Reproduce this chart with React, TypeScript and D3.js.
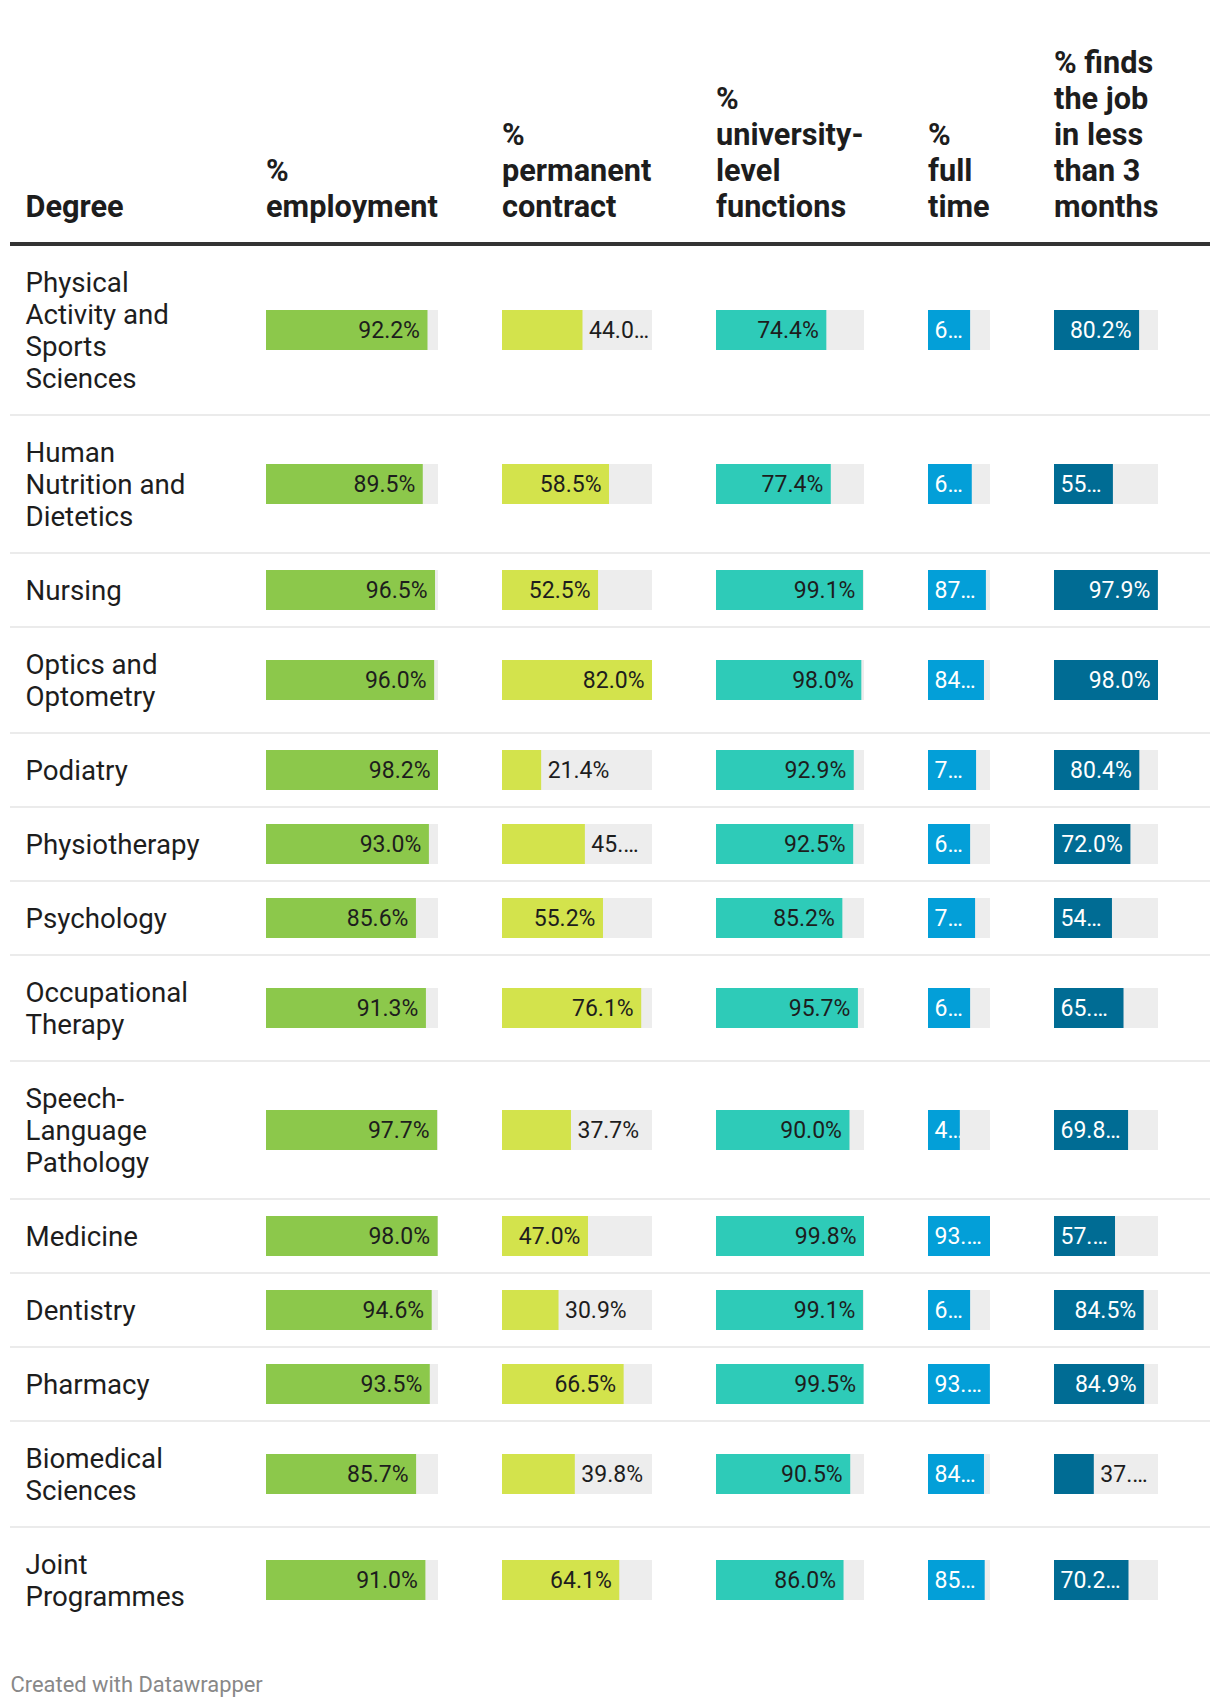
import React, { useMemo } from "react";
import * as d3 from "d3";

const degrees = [
  "Physical Activity and Sports Sciences",
  "Human Nutrition and Dietetics",
  "Nursing",
  "Optics and Optometry",
  "Podiatry",
  "Physiotherapy",
  "Psychology",
  "Occupational Therapy",
  "Speech-Language Pathology",
  "Medicine",
  "Dentistry",
  "Pharmacy",
  "Biomedical Sciences",
  "Joint Programmes",
];

const employment = [92.2, 89.5, 96.5, 96.0, 98.2, 93.0, 85.6, 91.3, 97.7, 98.0, 94.6, 93.5, 85.7, 91.0];
const permanent = [44.0, 58.5, 52.5, 82.0, 21.4, 45.3, 55.2, 76.1, 37.7, 47.0, 30.9, 66.5, 39.8, 64.1];
const university = [74.4, 77.4, 99.1, 98.0, 92.9, 92.5, 85.2, 95.7, 90.0, 99.8, 99.1, 99.5, 90.5, 86.0];
const fullTime = [63.5, 66.0, 87.3, 84.4, 72.5, 63.5, 71.0, 63.5, 48.0, 93.5, 63.5, 93.3, 84.4, 85.5];
const findsJob = [80.2, 55.5, 97.9, 98.0, 80.4, 72.0, 54.6, 65.5, 69.8, 57.5, 84.5, 84.9, 37.5, 70.2];

const degreeHeader = ["Degree"];
const columnHeaders = [
  ["%", "employment"],
  ["%", "permanent", "contract"],
  ["%", "university-", "level", "functions"],
  ["%", "full", "time"],
  ["% finds", "the job", "in less", "than 3", "months"],
];
const footerText = "Created with Datawrapper";

const series = [employment, permanent, university, fullTime, findsJob];

// layout / style
const colStyle = [
  { x: 266, w: 172, fill: "#8cc84b", inText: "#1d1d1d" },
  { x: 502, w: 150, fill: "#d3e34c", inText: "#1d1d1d" },
  { x: 716, w: 148, fill: "#2ecbb8", inText: "#1d1d1d" },
  { x: 928, w: 62, fill: "#039fd8", inText: "#ffffff" },
  { x: 1054, w: 104, fill: "#006c94", inText: "#ffffff" },
];

const W = 1220;
const H = 1708;
const BODY_FONT = 27.7;
const VAL_FONT = 23;
const HEAD_FONT = 30.7;
const FONT = "Roboto, 'Noto Sans', sans-serif";
const LINE = 32;
const DEG_X = 25.5;
const DEG_W = 190;
const TOP = 246;

let _ctx: CanvasRenderingContext2D | null = null;
function measure(text: string, size: number, weight = "normal") {
  if (!_ctx) {
    const c = document.createElement("canvas");
    _ctx = c.getContext("2d");
  }
  const ctx = _ctx!;
  ctx.font = `${weight} ${size}px Roboto`;
  return ctx.measureText(text).width;
}

function wrap(text: string, maxW: number): string[] {
  const tokens: { t: string; sep: string }[] = [];
  text.split(" ").forEach((word) => {
    const parts = word.split(/(?<=-)/);
    parts.forEach((p, i) => tokens.push({ t: p, sep: i === parts.length - 1 ? " " : "" }));
  });
  const lines: string[] = [];
  let cur = "";
  let prevSep = "";
  tokens.forEach((tk) => {
    const cand = cur === "" ? tk.t : cur + prevSep + tk.t;
    if (cur !== "" && measure(cand, BODY_FONT) > maxW) {
      lines.push(cur);
      cur = tk.t;
    } else {
      cur = cand;
    }
    prevSep = tk.sep;
  });
  if (cur) lines.push(cur);
  return lines;
}

function truncate(full: string, avail: number) {
  if (measure(full, VAL_FONT) <= avail) return full;
  for (let n = full.length - 1; n >= 1; n--) {
    const s = full.slice(0, n) + "\u2026";
    if (measure(s, VAL_FONT) <= avail) return s;
  }
  return full.slice(0, 1) + "\u2026";
}

export default function App() {
  const layout = useMemo(() => {
    const rows: { lines: string[]; top: number; h: number }[] = [];
    let y = TOP;
    degrees.forEach((d) => {
      const lines = wrap(d, DEG_W);
      const h = 40 + LINE * lines.length;
      rows.push({ lines, top: y, h });
      y += h + 2;
    });
    return rows;
  }, []);

  const scales = series.map((vals, i) =>
    d3.scaleLinear().domain([0, d3.max(vals) as number]).range([0, colStyle[i].w])
  );

  const fmt = (v: number) => v.toFixed(1) + "%";

  return (
    <svg
      width={W}
      height={H}
      style={{ position: "absolute", left: 0, top: 0, background: "#fff" }}
      fontFamily={FONT}
    >
      <defs>
        {layout.map((r, ri) =>
          series.map((vals, ci) => {
            const fw = scales[ci](vals[ri]);
            const cy = r.top + r.h / 2;
            return (
              <clipPath id={`clip-${ri}-${ci}`} key={`c${ri}-${ci}`}>
                <rect x={colStyle[ci].x} y={cy - 20} width={fw} height={40} />
              </clipPath>
            );
          })
        )}
      </defs>

      {/* header */}
      {[degreeHeader, ...columnHeaders].map((lines, ci) => {
        const x = ci === 0 ? DEG_X : colStyle[ci - 1].x;
        return (
          <text key={`h${ci}`} x={x} fontSize={HEAD_FONT} fontWeight={700} fill="#1d1d1d">
            {lines.map((ln, li) => (
              <tspan key={li} x={x} y={217 - (lines.length - 1 - li) * 36}>
                {ln}
              </tspan>
            ))}
          </text>
        );
      })}
      <rect x={10} y={242} width={1200} height={4} fill="#333333" />

      {/* rows */}
      {layout.map((r, ri) => {
        const cy = r.top + r.h / 2;
        const blockTop = cy - (LINE * r.lines.length) / 2;
        return (
          <g key={`r${ri}`}>
            <text x={DEG_X} fontSize={BODY_FONT} fill="#1d1d1d">
              {r.lines.map((ln, li) => (
                <tspan key={li} x={DEG_X} y={blockTop + li * LINE + 26}>
                  {ln}
                </tspan>
              ))}
            </text>
            {series.map((vals, ci) => {
              const st = colStyle[ci];
              const v = vals[ri];
              const max = d3.max(vals) as number;
              const fw = scales[ci](v);
              const space = st.w - fw;
              const full = fmt(v);
              const fullW = measure(full, VAL_FONT);
              const minTrunc = measure(full.slice(0, 1) + "\u2026", VAL_FONT);
              const inside = v / max >= 0.555 || space - 9 < minTrunc;
              let label: React.ReactNode;
              if (inside) {
                if (fullW + 14 <= fw) {
                  label = (
                    <text x={st.x + fw - 7.5} y={cy + 8} textAnchor="end" fontSize={VAL_FONT} fill={st.inText}>
                      {full}
                    </text>
                  );
                } else {
                  label = (
                    <text
                      x={st.x + 6.5}
                      y={cy + 8}
                      fontSize={VAL_FONT}
                      fill={st.inText}
                      clipPath={`url(#clip-${ri}-${ci})`}
                    >
                      {truncate(full, fw - 13)}
                    </text>
                  );
                }
              } else {
                label = (
                  <text x={st.x + fw + 6.5} y={cy + 8} fontSize={VAL_FONT} fill="#1d1d1d">
                    {truncate(full, space - 9)}
                  </text>
                );
              }
              return (
                <g key={`b${ci}`}>
                  <rect x={st.x} y={cy - 20} width={st.w} height={40} fill="#ededed" />
                  <rect x={st.x} y={cy - 20} width={fw} height={40} fill={st.fill} />
                  {label}
                </g>
              );
            })}
            {ri < layout.length - 1 && (
              <rect x={10} y={r.top + r.h} width={1200} height={2} fill="#ebebeb" />
            )}
          </g>
        );
      })}

      <text x={10.5} y={1692} fontSize={21.9} fill="#888888">
        {footerText}
      </text>
    </svg>
  );
}
